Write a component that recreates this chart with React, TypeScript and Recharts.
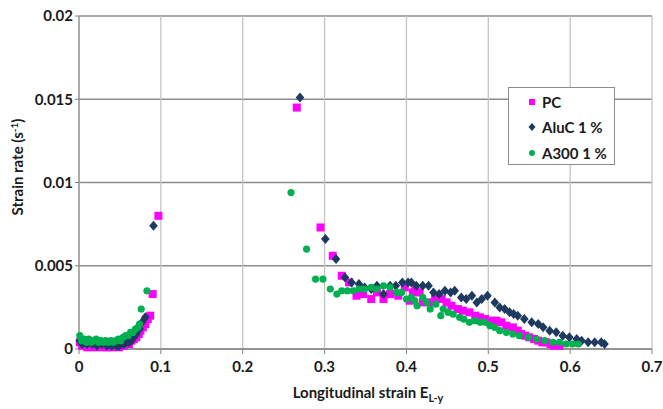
import {
  CartesianGrid,
  Label,
  Scatter,
  ScatterChart,
  XAxis,
  YAxis,
} from 'recharts'

// [strain, strain rate] pairs
const pcPoints: [number, number][] = [
  [0.001, 0.0004], [0.004, 0.0002], [0.007, 0.0003], [0.010, 0.0001], [0.013, 0.0003],
  [0.016, 0.0002], [0.019, 0.0001], [0.022, 0.0003], [0.025, 0.0002], [0.028, 0.0001],
  [0.031, 0.0002], [0.034, 0.0001], [0.037, 0.0002], [0.040, 0.0001], [0.043, 0.0002],
  [0.046, 0.0002], [0.049, 0.0001], [0.052, 0.0003], [0.055, 0.0002], [0.058, 0.0004],
  [0.061, 0.0003], [0.064, 0.0005], [0.067, 0.0006], [0.070, 0.0007], [0.073, 0.0009],
  [0.075, 0.0011], [0.078, 0.0013], [0.081, 0.0015], [0.084, 0.0018], [0.087, 0.0020],
  [0.090, 0.0033], [0.097, 0.0080],
  [0.266, 0.0145], [0.295, 0.0073], [0.310, 0.0056], [0.321, 0.0044], [0.330, 0.0040],
  [0.339, 0.0032], [0.347, 0.0033], [0.357, 0.0030], [0.364, 0.0034], [0.372, 0.0030],
  [0.380, 0.0033], [0.390, 0.0032], [0.398, 0.0037], [0.404, 0.0029], [0.408, 0.0034],
  [0.411, 0.0035], [0.416, 0.0034], [0.420, 0.0028], [0.428, 0.0028], [0.435, 0.0030],
  [0.443, 0.0030], [0.449, 0.0028], [0.455, 0.0026], [0.463, 0.0024], [0.469, 0.0023],
  [0.477, 0.0022], [0.484, 0.0020], [0.490, 0.0019], [0.496, 0.0018], [0.504, 0.0017],
  [0.510, 0.0017], [0.516, 0.0016], [0.522, 0.0014], [0.530, 0.0013], [0.536, 0.0011],
  [0.540, 0.0009], [0.545, 0.0008], [0.550, 0.0007], [0.556, 0.0006], [0.561, 0.0005],
  [0.566, 0.0004], [0.571, 0.0004], [0.576, 0.0003], [0.580, 0.0002], [0.587, 0.0002],
]

const alucPoints: [number, number][] = [
  [0.001, 0.0005], [0.004, 0.0003], [0.007, 0.0004], [0.010, 0.0003], [0.013, 0.0005],
  [0.016, 0.0003], [0.019, 0.0004], [0.022, 0.0002], [0.025, 0.0004], [0.028, 0.0003],
  [0.031, 0.0004], [0.034, 0.0002], [0.037, 0.0003], [0.040, 0.0002], [0.043, 0.0003],
  [0.046, 0.0002], [0.049, 0.0002], [0.052, 0.0003], [0.055, 0.0003], [0.058, 0.0004],
  [0.061, 0.0004], [0.064, 0.0005], [0.067, 0.0007], [0.070, 0.0009], [0.074, 0.0012],
  [0.077, 0.0016], [0.081, 0.0019], [0.091, 0.0074],
  [0.270, 0.0151], [0.301, 0.0066], [0.314, 0.0054], [0.325, 0.0043], [0.333, 0.0040],
  [0.342, 0.0039], [0.349, 0.0037], [0.357, 0.0036], [0.364, 0.0038], [0.372, 0.0033],
  [0.380, 0.0038], [0.387, 0.0038], [0.395, 0.0040], [0.402, 0.0040], [0.406, 0.0040],
  [0.412, 0.0038], [0.420, 0.0038], [0.427, 0.0038], [0.433, 0.0034], [0.440, 0.0033],
  [0.447, 0.0035], [0.454, 0.0034], [0.459, 0.0035], [0.467, 0.0031], [0.473, 0.0030],
  [0.480, 0.0032], [0.486, 0.0028], [0.492, 0.0030], [0.499, 0.0032], [0.508, 0.0028],
  [0.514, 0.0025], [0.520, 0.0024], [0.526, 0.0022], [0.531, 0.0021], [0.536, 0.0020],
  [0.544, 0.0018], [0.553, 0.0016], [0.561, 0.0015], [0.567, 0.0013], [0.575, 0.0011],
  [0.583, 0.0010], [0.591, 0.0008], [0.599, 0.0007], [0.608, 0.0006], [0.614, 0.0005],
  [0.622, 0.0004], [0.630, 0.0004], [0.638, 0.0004], [0.642, 0.0003],
]

const a300Points: [number, number][] = [
  [0.001, 0.0008], [0.003, 0.0005], [0.006, 0.0006], [0.009, 0.0004], [0.012, 0.0006],
  [0.015, 0.0004], [0.018, 0.0005], [0.021, 0.0006], [0.024, 0.0004], [0.027, 0.0005],
  [0.030, 0.0004], [0.033, 0.0005], [0.036, 0.0004], [0.039, 0.0005], [0.042, 0.0004],
  [0.045, 0.0005], [0.048, 0.0006], [0.051, 0.0005], [0.054, 0.0007], [0.057, 0.0008],
  [0.060, 0.0008], [0.063, 0.0010], [0.066, 0.0010], [0.069, 0.0012], [0.072, 0.0013],
  [0.074, 0.0015], [0.076, 0.0024], [0.083, 0.0035],
  [0.259, 0.0094], [0.278, 0.0060], [0.289, 0.0042], [0.298, 0.0042], [0.307, 0.0036],
  [0.315, 0.0033], [0.321, 0.0035], [0.328, 0.0035], [0.335, 0.0035], [0.342, 0.0036],
  [0.349, 0.0036], [0.357, 0.0037], [0.364, 0.0036], [0.372, 0.0038], [0.380, 0.0037],
  [0.388, 0.0034], [0.394, 0.0034], [0.400, 0.0030], [0.406, 0.0031], [0.410, 0.0029],
  [0.413, 0.0026], [0.420, 0.0031], [0.425, 0.0028], [0.429, 0.0024], [0.436, 0.0027],
  [0.442, 0.0020], [0.445, 0.0024], [0.451, 0.0022], [0.457, 0.0021], [0.465, 0.0019],
  [0.470, 0.0018], [0.477, 0.0016], [0.484, 0.0017], [0.490, 0.0016], [0.496, 0.0016],
  [0.502, 0.0014], [0.508, 0.0013], [0.514, 0.0011], [0.522, 0.0010], [0.530, 0.0009],
  [0.538, 0.0008], [0.549, 0.0007], [0.559, 0.0006], [0.569, 0.0005], [0.579, 0.0004],
  [0.587, 0.0004], [0.595, 0.0003], [0.603, 0.0003], [0.610, 0.0003],
]

const xTicks = [0, 0.1, 0.2, 0.3, 0.4, 0.5, 0.6, 0.7]
const yTicks = [0, 0.005, 0.01, 0.015, 0.02]

const PC_COLOR = '#ff00ff'
const ALUC_COLOR = '#1f3a60'
const A300_COLOR = '#00b050'
const FONT = 'Lato, "Open Sans", sans-serif'

const toRows = (pts: [number, number][]) => pts.map(([x, y]) => ({ x, y }))

// eslint-disable-next-line @typescript-eslint/no-explicit-any
const SquareDot = (p: any) => (
  <rect x={p.cx - 4} y={p.cy - 4} width={8} height={8} fill={PC_COLOR} />
)
// eslint-disable-next-line @typescript-eslint/no-explicit-any
const DiamondDot = (p: any) => (
  <polygon
    points={`${p.cx},${p.cy - 5} ${p.cx + 4.3},${p.cy} ${p.cx},${p.cy + 5} ${p.cx - 4.3},${p.cy}`}
    fill={ALUC_COLOR}
  />
)
// eslint-disable-next-line @typescript-eslint/no-explicit-any
const CircleDot = (p: any) => <circle cx={p.cx} cy={p.cy} r={3.6} fill={A300_COLOR} />

const tickStyle = { fontSize: 15, fontWeight: 700, fill: '#1a1a1a', fontFamily: FONT }

// legend drawn as a plain overlay so it doesn't eat plot space
function LegendBox() {
  const rows = [
    { name: 'PC', marker: <rect x={2} y={2} width={6} height={6} fill={PC_COLOR} /> },
    { name: 'AluC 1 %', marker: <polygon points="5,1 8.5,5 5,9 1.5,5" fill={ALUC_COLOR} /> },
    { name: 'A300 1 %', marker: <circle cx={5} cy={5} r={3} fill={A300_COLOR} /> },
  ]
  return (
    <div
      style={{
        position: 'absolute',
        left: 508,
        top: 87,
        width: 107,
        height: 78,
        boxSizing: 'border-box',
        border: '1px solid #8c8c8c',
        background: '#fff',
        paddingTop: 1,
        fontFamily: FONT,
      }}
    >
      {rows.map((r) => (
        <div key={r.name} style={{ display: 'flex', alignItems: 'center', height: 25.5 }}>
          <svg width={10} height={10} style={{ marginLeft: 18, marginRight: 5 }}>
            {r.marker}
          </svg>
          <span style={{ fontSize: 15, fontWeight: 700, color: '#1a1a1a' }}>{r.name}</span>
        </div>
      ))}
    </div>
  )
}

const yTitle = () => (
  <text
    transform="translate(23,167) rotate(-90)"
    textAnchor="middle"
    style={{ fontSize: 15, fontWeight: 700, fontFamily: FONT }}
    fill="#1a1a1a"
  >
    Strain rate (s
    <tspan dy={-5} fontSize={10}>-1</tspan>
    <tspan dy={5}>)</tspan>
  </text>
)

const xTitle = () => (
  <text
    x={368}
    y={398}
    textAnchor="middle"
    style={{ fontSize: 15, fontWeight: 700, fontFamily: FONT }}
    fill="#1a1a1a"
  >
    Longitudinal strain E
    <tspan dy={4} fontSize={11}>L-y</tspan>
  </text>
)

export default function App() {
  return (
    <div style={{ position: 'absolute', left: 0, top: 0, width: 663, height: 409, background: '#fff' }}>
      <ScatterChart width={663} height={409} margin={{ top: 16, right: 11, bottom: 0, left: 0 }}>
        <CartesianGrid vertical={false} stroke="#8c8c8c" strokeWidth={1.3} />
        <CartesianGrid horizontal={false} stroke="#c4c4c4" strokeWidth={1.3} />
        <XAxis
          type="number"
          dataKey="x"
          domain={[0, 0.7]}
          ticks={xTicks}
          height={60}
          tick={tickStyle}
          tickSize={5}
          tickMargin={7}
          axisLine={{ stroke: '#7f7f7f' }}
          tickLine={{ stroke: '#7f7f7f' }}
        >
          <Label content={xTitle} />
        </XAxis>
        <YAxis
          type="number"
          dataKey="y"
          domain={[0, 0.02]}
          ticks={yTicks}
          width={79}
          tick={tickStyle}
          tickSize={4}
          tickMargin={2}
          axisLine={{ stroke: '#7f7f7f' }}
          tickLine={{ stroke: '#7f7f7f' }}
        >
          <Label content={yTitle} />
        </YAxis>
        <Scatter name="PC" data={toRows(pcPoints)} shape={SquareDot} isAnimationActive={false} />
        <Scatter name="AluC 1 %" data={toRows(alucPoints)} shape={DiamondDot} isAnimationActive={false} />
        <Scatter name="A300 1 %" data={toRows(a300Points)} shape={CircleDot} isAnimationActive={false} />
      </ScatterChart>
      <LegendBox />
    </div>
  )
}
